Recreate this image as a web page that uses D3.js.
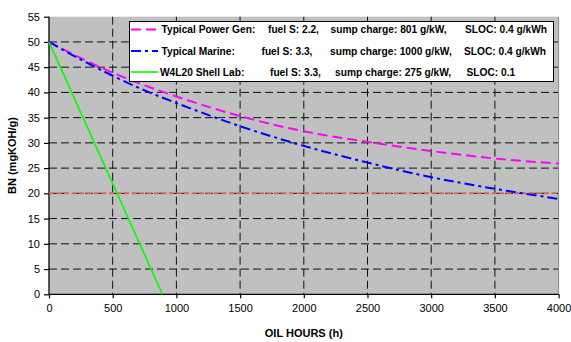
<!DOCTYPE html>
<html>
<head>
<meta charset="utf-8">
<script src="https://cdn.jsdelivr.net/npm/d3@7"></script>
<style>
  html, body { margin: 0; padding: 0; background: #fff; }
  svg { display: block; font-family: "Liberation Sans", Arial, sans-serif; }
</style>
</head>
<body>
<svg id="chart" width="571" height="342"></svg>
<script>
// Oil hours at which BN was evaluated
const hours = [0, 250, 500, 750, 1000, 1500, 2000, 2500, 3000, 3500, 4000];
// BN depletion curves (mgKOH/g)
const powerGenBN = [50, 46.8, 43.9, 41.4, 39.2, 35.3, 32.3, 30.2, 28.4, 26.9, 25.9];
const marineBN   = [50, 46.5, 43.3, 40.4, 37.9, 33.3, 29.4, 26.1, 23.2, 20.9, 18.9];
// Shell lab test: straight depletion to zero
const labHours = [0, 890];
const labBN    = [50, 0];
// Condemning limit
const limitHours = [0, 4000];
const limitBN    = [20, 20];

const xTicks = [0, 500, 1000, 1500, 2000, 2500, 3000, 3500, 4000];
const yTicks = [0, 5, 10, 15, 20, 25, 30, 35, 40, 45, 50, 55];

const legendNames = ["Typical Power Gen:", "Typical Marine:", "W4L20 Shell Lab:"];
const legendFuel  = ["fuel S: 2.2,", "fuel S: 3.3,", "fuel S: 3.3,"];
const legendSump  = ["sump charge: 801 g/kW,", "sump charge: 1000 g/kW,", "sump charge: 275 g/kW,"];
const legendSloc  = ["SLOC: 0.4 g/kWh", "SLOC: 0.4 g/kWh", "SLOC: 0.1"];

const svg = d3.select("#chart");
const L = 49, R = 558.6, T = 16.7, B = 294.3;

const x = d3.scaleLinear().domain([0, 4000]).range([L, R]);
const y = d3.scaleLinear().domain([0, 55]).range([B, T]);

// plot area
svg.append("rect").attr("x", L).attr("y", T).attr("width", R - L).attr("height", B - T)
  .attr("fill", "#c0c0c0");

// gridlines
const grid = svg.append("g").attr("stroke", "#111").attr("stroke-width", 1)
  .attr("stroke-dasharray", "8,4");
grid.selectAll("line.h").data(yTicks.filter(v => v > 0 && v < 55)).join("line")
  .attr("x1", L).attr("x2", R).attr("y1", d => y(d)).attr("y2", d => y(d));
grid.selectAll("line.v").data(xTicks.filter(v => v > 0 && v < 4000)).join("line")
  .attr("y1", T).attr("y2", B).attr("x1", d => x(d)).attr("x2", d => x(d));

// right edge of plot area
svg.append("line").attr("x1", R).attr("x2", R).attr("y1", T).attr("y2", B)
  .attr("stroke", "#888").attr("stroke-width", 1);

// axes
const xAxis = d3.axisBottom(x).tickValues(xTicks).tickSize(4).tickPadding(6).tickFormat(d3.format("d"));
const yAxis = d3.axisLeft(y).tickValues(yTicks).tickSize(5).tickPadding(4).tickFormat(d3.format("d"));
const gx = svg.append("g").attr("transform", `translate(0,${B})`).call(xAxis);
const gy = svg.append("g").attr("transform", `translate(${L},0)`).call(yAxis);
[gx, gy].forEach(g => {
  g.select(".domain").attr("stroke", "#000").attr("stroke-width", 1.3);
  g.selectAll(".tick line").attr("stroke", "#000").attr("stroke-width", 1.2);
  g.selectAll(".tick text").attr("font-size", "11px").attr("fill", "#000")
    .attr("font-family", "'Liberation Sans', Arial, sans-serif");
});
gx.select(".domain").attr("d", `M${L},0H${R}`);
gy.select(".domain").attr("d", `M0,${B}V${T}`);

// axis titles
svg.append("text").attr("x", (L + R) / 2).attr("y", 337).attr("text-anchor", "middle")
  .attr("font-size", "11px").attr("font-weight", "bold").text("OIL HOURS (h)");
svg.append("text").attr("transform", `translate(16,${(T + B) / 2}) rotate(-90)`)
  .attr("text-anchor", "middle").attr("font-size", "11px").attr("font-weight", "bold")
  .text("BN (mgKOH/g)");

const line = d3.line().x(d => x(d[0])).y(d => y(d[1]));
const smooth = d3.line().x(d => x(d[0])).y(d => y(d[1])).curve(d3.curveMonotoneX);
const plot = svg.append("g");

// limit line
plot.append("path").datum(d3.zip(limitHours, limitBN)).attr("d", line)
  .attr("fill", "none").attr("stroke", "#e06666").attr("stroke-width", 2)
  .attr("stroke-dasharray", "5,2.5");

const series = [
  { h: hours, v: powerGenBN, color: "#ff00ff", dash: "10,5", width: 2, gen: smooth },
  { h: hours, v: marineBN, color: "#0000ff", dash: "10,4,3,4", width: 2, gen: smooth },
  { h: labHours, v: labBN, color: "#00ff00", dash: null, width: 1.6, gen: line }
];
series.forEach(s => {
  plot.append("path").datum(d3.zip(s.h, s.v)).attr("d", s.gen)
    .attr("fill", "none").attr("stroke", s.color).attr("stroke-width", s.width)
    .attr("stroke-dasharray", s.dash);
});

// legend
const lg = svg.append("g");
lg.append("rect").attr("x", 129.5).attr("y", 21.5).attr("width", 424).attr("height", 60)
  .attr("fill", "#fff").attr("stroke", "#000").attr("stroke-width", 1);
const rowY = [29.5, 51, 72];
const colX = [[161.5, 268, 330.5, 465], [161.5, 261.5, 330, 464], [160, 270, 335, 466.5]];
series.forEach((s, i) => {
  lg.append("line").attr("x1", 131).attr("x2", 158).attr("y1", rowY[i]).attr("y2", rowY[i])
    .attr("stroke", s.color).attr("stroke-width", s.width).attr("stroke-dasharray", s.dash);
  [legendNames[i], legendFuel[i], legendSump[i], legendSloc[i]].forEach((t, j) => {
    lg.append("text").attr("x", colX[i][j]).attr("y", rowY[i]).attr("dy", "0.35em")
      .attr("font-size", "10.2px").attr("font-weight", "bold").text(t);
  });
});
</script>
</body>
</html>
